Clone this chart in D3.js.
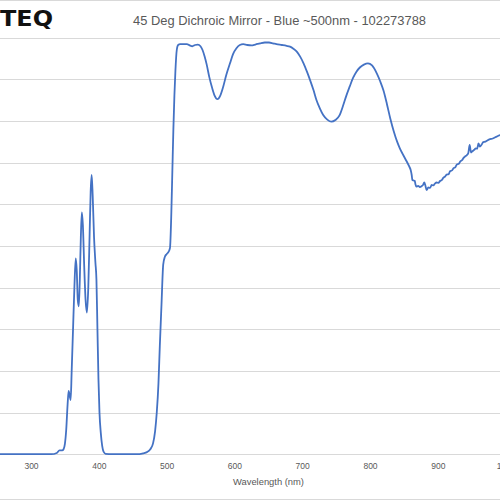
<!DOCTYPE html>
<html><head><meta charset="utf-8">
<script src="https://cdn.jsdelivr.net/npm/d3@7"></script>
<style>html,body{margin:0;padding:0;background:#fff;}svg{display:block;}</style>
</head><body>
<svg id="chart" width="500" height="500"></svg>
<script>
const title = "45 Deg Dichroic Mirror - Blue ~500nm - 102273788";
const xLabel = "Wavelength (nm)";
const logoText = "TEQ";
const xTicks = [300, 400, 500, 600, 700, 800, 900, 1000];
const yTicks = [0, 10, 20, 30, 40, 50, 60, 70, 80, 90, 100];
const wavelength = [250,300,330,338,342,346,348,350,352,354,355.5,357,358.5,360,362,364,366,367.5,369,370.5,372,373.5,375,376.5,378.5,380.5,382.5,384.5,386.5,388,389.5,391,393,395,396.5,398,399.5,401,403,405,407,410,420,460,466,471,476,480,483,485.5,488,490,492.5,495,497.5,500,503,505,507,508.5,510,511.5,513,515,517,520,525,530,534,538,542,546,550,553,556,559,563,567,571,575,579,583.5,588,593.5,598,603,608,613,619,625,631,638,645,651,657,662,670,677,682,687,692,697,702,707,712,717,721,726,731,737,743,749,755,760,765,770,775,780,785,791,797,803,810,815,820,825,830,835,840,844,849,854,858,860,861.5,862.5,864,866,867,868.5,871,873.5,876,878.5,880,881.5,883.5,886,888.5,891,893.5,896,898.5,901,903,906,908,911,913,916,918,921,923,926,928,931,933,936,938,940,943,945,947,949,951,954,956,958,960,962,965,967,970,973,977,980,984,988,992,1000,1010];
const transmission = [0,0,0,0.3,0.9,0.9,1.2,2.5,6,12,15.2,14,13,20,30,40,47,44,37,35.5,42,52,58,55,45,37,34,40,53,63,67,62,52,46,42,30,18,10,5,2,0.6,0.1,0,0,0.2,0.5,1.2,2.6,5.5,10,17,26,36,45.5,47.4,48,48.6,49.5,58,68,78,86,92,97,98.2,98.4,98.4,98.4,98.1,97.9,98.2,98.3,97.9,97,95.5,93.6,90.5,88,86,85.2,86,88.2,91,93.8,96,97.4,98.2,98.4,98.2,98.1,98.3,98.6,98.8,98.8,98.6,98.4,98.2,98.0,97.8,97.3,96.6,95.4,93.8,91.8,89.6,87.2,85,83,81.4,80.3,79.8,80.2,81.3,83.5,86,88.2,90.3,91.8,92.8,93.5,93.8,93.3,91.4,89.5,87.2,84,80.5,77.5,75,73.4,71.8,70.3,69,68.2,67,65.8,65.7,65.6,64.8,64.2,64.4,64.1,64.3,64.7,65.2,64.6,63.4,64,63.9,64.6,64.5,65,65.2,65.1,65.5,65.8,66.3,66.7,67.1,67.2,67.9,68.1,68.6,68.9,69.5,69.7,70.2,70.6,71.1,71.4,71.8,72.3,74.2,72.4,72.7,73.1,73.4,73.3,74.6,73.8,74.4,74.9,75.0,75.3,75.6,75.7,76.0,76.3,76.6,76.8,77.2];

const svg = d3.select("#chart");
const x = d3.scaleLinear().domain([250, 1050]).range([-2.9, 539.5]);
const y = d3.scaleLinear().domain([0, 100]).range([454.2, 37.5]);

// outer frame lines
svg.append("line").attr("x1",0).attr("x2",500).attr("y1",0.5).attr("y2",0.5).attr("stroke","#d9d9d9");
svg.append("line").attr("x1",0).attr("x2",500).attr("y1",499.5).attr("y2",499.5).attr("stroke","#d9d9d9");

// gridlines
svg.append("g").selectAll("line").data(yTicks.filter(d=>d>0)).join("line")
  .attr("x1", 0).attr("x2", 500)
  .attr("y1", d=>Math.round(y(d))+0.5).attr("y2", d=>Math.round(y(d))+0.5)
  .attr("stroke", "#d9d9d9").attr("stroke-width", 1);

// x axis
const xAxis = d3.axisBottom(x).tickValues(xTicks).tickSize(0).tickPadding(8).tickFormat(d3.format("d"));
const gx = svg.append("g").attr("transform", `translate(0,${Math.round(y(0))+0.5})`).call(xAxis);
gx.select(".domain").attr("stroke", "#d9d9d9").attr("d", "M0,0H500");
gx.selectAll("text").attr("fill", "#595959").attr("font-family", "Liberation Sans, Arial, sans-serif").attr("font-size", "8.5px");

// line
const line = d3.line().x((d,i)=>x(wavelength[i])).y(d=>y(d)).curve(d3.curveMonotoneX);
svg.append("path").datum(transmission).attr("d", line)
  .attr("fill", "none").attr("stroke", "#4472C4").attr("stroke-width", 1.8).attr("stroke-linejoin","round");

// title
svg.append("text").attr("x", 279.5).attr("y", 24.5).attr("text-anchor", "middle")
  .attr("font-family", "Liberation Sans, Arial, sans-serif").attr("font-size", "12.5px").attr("fill", "#595959")
  .attr("textLength", 293).attr("lengthAdjust", "spacingAndGlyphs").text(title);

// x label
svg.append("text").attr("x", 268.5).attr("y", 485).attr("text-anchor", "middle")
  .attr("font-family", "Liberation Sans, Arial, sans-serif").attr("font-size", "9.5px").attr("fill", "#595959")
  .attr("textLength", 71).attr("lengthAdjust", "spacingAndGlyphs").text(xLabel);

// logo
svg.append("text").attr("x", 0).attr("y", 26).attr("font-family", "DejaVu Sans, Liberation Sans, sans-serif")
  .attr("font-weight", "bold").attr("font-size", "21px").attr("fill", "#111")
  .attr("textLength", 53).attr("lengthAdjust", "spacingAndGlyphs").text(logoText);
</script>
</body></html>
